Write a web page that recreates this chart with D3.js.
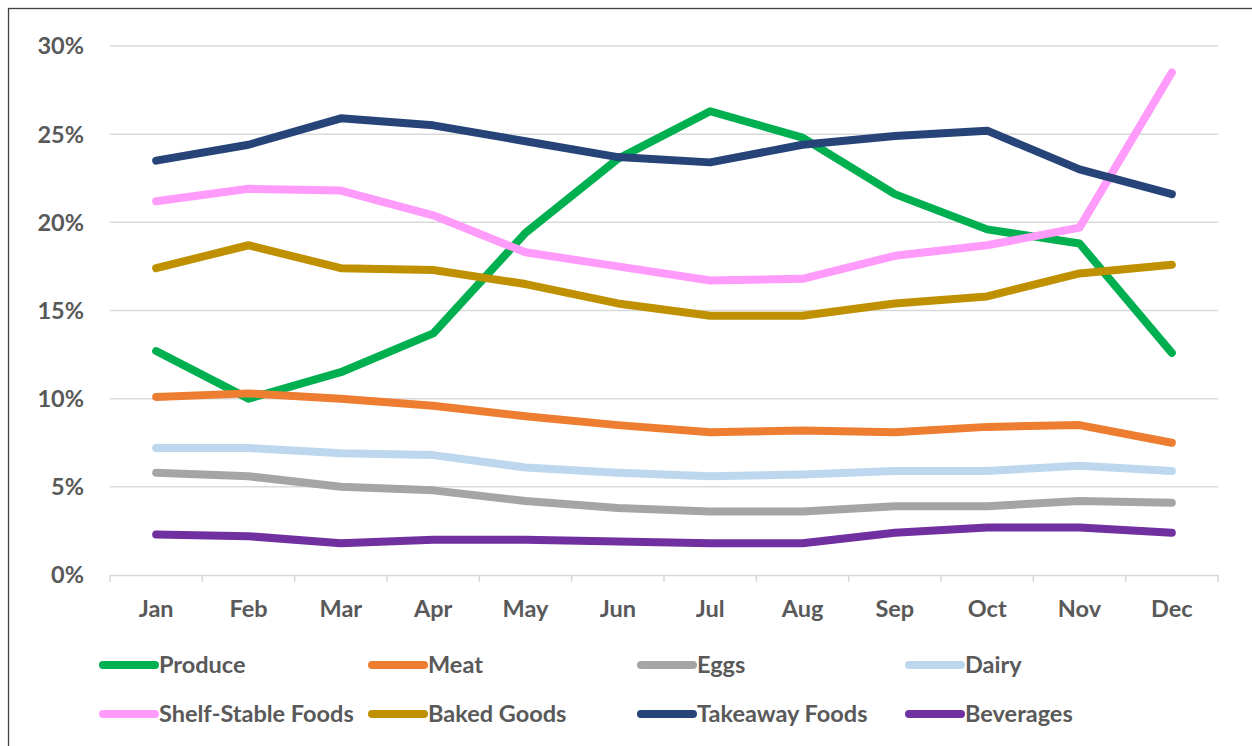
<!DOCTYPE html>
<html>
<head>
<meta charset="utf-8">
<script src="https://cdn.jsdelivr.net/npm/d3@7"></script>
<style>
  body { margin: 0; background: #fff; }
  text { font-family: Lato, "Open Sans", sans-serif; font-weight: bold; fill: #595959; }
</style>
</head>
<body>
<svg width="1252" height="746"></svg>
<script>
const months = ["Jan", "Feb", "Mar", "Apr", "May", "Jun", "Jul", "Aug", "Sep", "Oct", "Nov", "Dec"]
const yTicks = [0, 0.05, 0.10, 0.15, 0.20, 0.25, 0.30]

// values, in percent
const produce   = [12.7, 10.0, 11.5, 13.7, 19.4, 23.6, 26.3, 24.8, 21.6, 19.6, 18.8, 12.6]
const meat      = [10.1, 10.3, 10.0, 9.6, 9.0, 8.5, 8.1, 8.2, 8.1, 8.4, 8.5, 7.5]
const eggs      = [5.8, 5.6, 5.0, 4.8, 4.2, 3.8, 3.6, 3.6, 3.9, 3.9, 4.2, 4.1]
const dairy     = [7.2, 7.2, 6.9, 6.8, 6.1, 5.8, 5.6, 5.7, 5.9, 5.9, 6.2, 5.9]
const shelf     = [21.2, 21.9, 21.8, 20.4, 18.3, 17.5, 16.7, 16.8, 18.1, 18.7, 19.7, 28.5]
const baked     = [17.4, 18.7, 17.4, 17.3, 16.5, 15.4, 14.7, 14.7, 15.4, 15.8, 17.1, 17.6]
const takeaway  = [23.5, 24.4, 25.9, 25.5, 24.6, 23.7, 23.4, 24.4, 24.9, 25.2, 23.0, 21.6]
const beverages = [2.3, 2.2, 1.8, 2.0, 2.0, 1.9, 1.8, 1.8, 2.4, 2.7, 2.7, 2.4]

const series = [
    {name: "Produce", values: produce, color: "#00B050"},
    {name: "Meat", values: meat, color: "#ED7D31"},
    {name: "Eggs", values: eggs, color: "#A5A5A5"},
    {name: "Dairy", values: dairy, color: "#BDD7EE"},
    {name: "Shelf-Stable Foods", values: shelf, color: "#FF9BFA"},
    {name: "Baked Goods", values: baked, color: "#BF9000"},
    {name: "Takeaway Foods", values: takeaway, color: "#264478"},
    {name: "Beverages", values: beverages, color: "#7030A0"}
]

const svg = d3.select("svg")
const margin = {top: 46, left: 110, right: 34, bottom: 171}
const width = +svg.attr("width")
const height = +svg.attr("height")

// chart border
svg.append("rect")
    .attr("x", 8.5).attr("y", 8.5)
    .attr("width", 1260).attr("height", 760)
    .attr("fill", "none").attr("stroke", "#404040").attr("stroke-width", 1.3)

const xScale = d3.scaleBand()
    .domain(months)
    .range([margin.left, width - margin.right])

const yScale = d3.scaleLinear()
    .domain([0, 0.30])
    .range([height - margin.bottom, margin.top])

// gridlines
svg.append("g")
    .selectAll("line")
    .data(yTicks.slice(1))
    .join("line")
    .attr("x1", margin.left).attr("x2", width - margin.right)
    .attr("y1", d => yScale(d)).attr("y2", d => yScale(d))
    .attr("stroke", "#D9D9D9").attr("stroke-width", 1.5)

// y labels
svg.append("g")
    .selectAll("text")
    .data(yTicks)
    .join("text")
    .attr("x", 84)
    .attr("y", d => yScale(d))
    .attr("dy", "0.36em")
    .attr("text-anchor", "end")
    .style("font-size", "23.5px")
    .text(d3.format(".0%"))

// x axis
const xAxis = svg.append("g")
    .attr("transform", `translate(0, ${yScale(0)})`)
    .call(d3.axisBottom(xScale).tickSize(0).tickPadding(25))
xAxis.select(".domain").attr("stroke", "#D9D9D9").attr("stroke-width", 1.5)
xAxis.selectAll("text").style("font-size", "23.5px").attr("fill", "#595959")
    .style("font-family", "Lato, 'Open Sans', sans-serif")

// tick marks at band boundaries
const bounds = months.map(m => xScale(m)).concat([xScale.range()[1]])
svg.append("g")
    .selectAll("line")
    .data(bounds)
    .join("line")
    .attr("x1", d => d).attr("x2", d => d)
    .attr("y1", yScale(0)).attr("y2", yScale(0) + 7)
    .attr("stroke", "#D9D9D9").attr("stroke-width", 1.5)

const line = d3.line()
    .x((d, i) => xScale(months[i]) + xScale.bandwidth() / 2)
    .y(d => yScale(d / 100))

svg.append("g")
    .selectAll("path")
    .data(series)
    .join("path")
    .attr("d", d => line(d.values))
    .attr("fill", "none")
    .attr("stroke", d => d.color)
    .attr("stroke-width", 8)
    .attr("stroke-linecap", "round")
    .attr("stroke-linejoin", "round")

// legend
const legendCols = [103, 372, 641, 909]
const legendRows = [665, 714]
const legend = svg.append("g")
    .selectAll("g")
    .data(series)
    .join("g")
    .attr("transform", (d, i) => `translate(${legendCols[i % 4]}, ${legendRows[Math.floor(i / 4)]})`)

legend.append("line")
    .attr("x1", 0).attr("x2", 52)
    .attr("stroke", d => d.color)
    .attr("stroke-width", 8)
    .attr("stroke-linecap", "round")

legend.append("text")
    .attr("x", 56)
    .attr("dy", "0.36em")
    .style("font-size", "23.5px")
    .text(d => d.name)
</script>
</body>
</html>
